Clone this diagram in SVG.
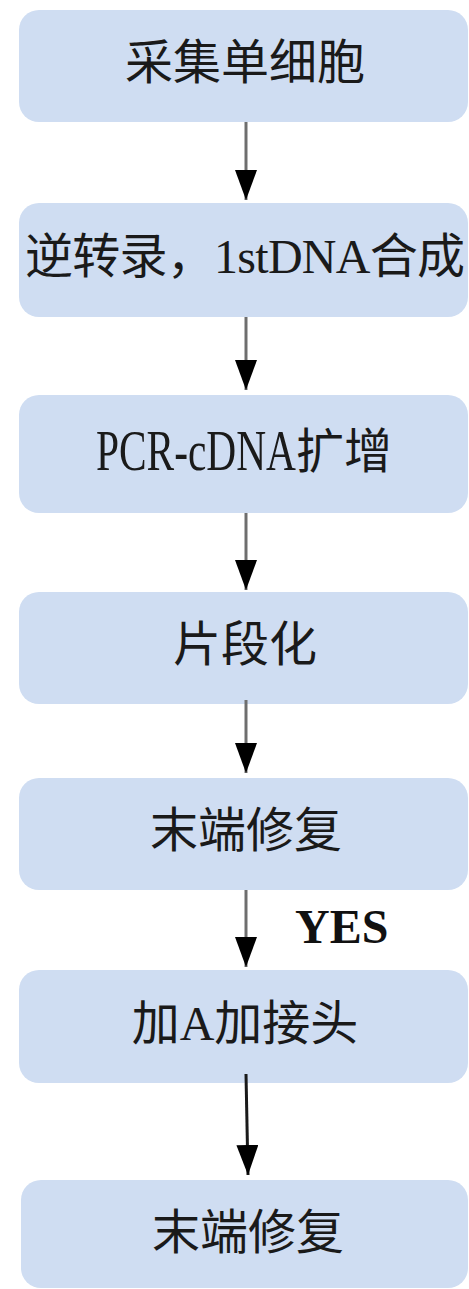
<svg xmlns="http://www.w3.org/2000/svg" width="469" height="1289" viewBox="0 0 469 1289">
  <style>
    .box { fill: #cfddf2; }
    .lbl { font-family: "Liberation Serif", "Noto Sans CJK SC", serif; font-size: 48px; fill: #1a1a1a; text-anchor: middle; dominant-baseline: central; }
    .edge { stroke: #6e6e6e; stroke-width: 3; fill: none; marker-end: url(#head); }
    .edge.dark { stroke: #1a1a1a; }
    .tag { font-family: "Liberation Serif", serif; font-weight: bold; font-size: 48px; fill: #111; }
  </style>
  <defs>
    <marker id="head" markerUnits="userSpaceOnUse" markerWidth="30" markerHeight="22" viewBox="0 0 30 22" refX="30" refY="11" orient="auto">
      <path d="M0,0 L30,11 L0,22 z" fill="#000"/>
    </marker>
  </defs>

  <!-- process steps -->
  <g id="step1">
    <rect class="box" x="19" y="10" width="449" height="112" rx="20"/>
    <text class="lbl" x="245" y="62">采集单细胞</text>
  </g>
  <g id="step2">
    <rect class="box" x="19" y="203" width="449" height="114" rx="20"/>
    <text class="lbl" x="245" y="256" textLength="440" lengthAdjust="spacing">逆转录，1stDNA合成</text>
  </g>
  <g id="step3">
    <rect class="box" x="19" y="395" width="449" height="118" rx="20"/>
    <text class="lbl" x="244" y="451"><tspan font-size="56" textLength="200" lengthAdjust="spacingAndGlyphs">PCR-cDNA</tspan><tspan>扩增</tspan></text>
  </g>
  <g id="step4">
    <rect class="box" x="19" y="592" width="449" height="112" rx="20"/>
    <text class="lbl" x="245" y="644">片段化</text>
  </g>
  <g id="step5">
    <rect class="box" x="19" y="778" width="449" height="112" rx="20"/>
    <text class="lbl" x="246" y="830">末端修复</text>
  </g>
  <g id="step6">
    <rect class="box" x="19" y="970" width="449" height="113" rx="20"/>
    <text class="lbl" x="245" y="1023">加A加接头</text>
  </g>
  <g id="step7">
    <rect class="box" x="21" y="1180" width="447" height="108" rx="20"/>
    <text class="lbl" x="248" y="1232">末端修复</text>
  </g>

  <!-- connectors -->
  <g id="connectors">
    <path class="edge" d="M246,122 L246,200"/>
    <path class="edge" d="M246,317 L246,390"/>
    <path class="edge" d="M246,513 L246,590"/>
    <path class="edge" d="M246,700 L246,773"/>
    <path class="edge" d="M246,890 L246,967"/>
    <path class="edge dark" d="M246,1074 L248,1175"/>
    <text class="tag" x="295" y="943">YES</text>
  </g>
</svg>
